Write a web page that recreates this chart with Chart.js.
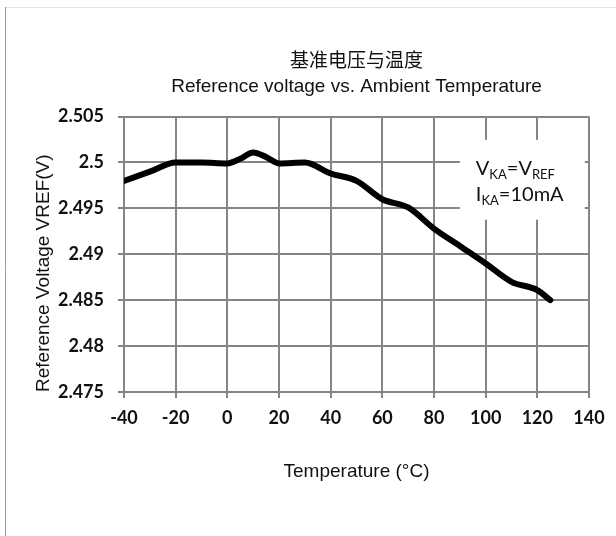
<!DOCTYPE html>
<html>
<head>
<meta charset="utf-8">
<script src="https://cdn.jsdelivr.net/npm/chart.js@4/dist/chart.umd.min.js"></script>
<style>
  html, body { margin: 0; padding: 0; background: #ffffff; }
  #wrap { width: 616px; height: 536px; position: relative; }
</style>
</head>
<body>
<div id="wrap"><canvas id="c" width="616" height="536"></canvas></div>
<script>
// ---- data ----
const temperatures = [-40, -30, -20, -10, 0, 5, 10, 15, 20, 30, 40, 50, 60, 70, 80, 90, 100, 110, 120, 125];
const vrefValues   = [2.4980, 2.4990, 2.5000, 2.5000, 2.4999, 2.5004, 2.5011, 2.5006, 2.4999, 2.5000, 2.4988, 2.4980, 2.4960, 2.4951, 2.4928, 2.4909, 2.4890, 2.4870, 2.4861, 2.4850];
const xTicks = [-40, -20, 0, 20, 40, 60, 80, 100, 120, 140];
const yTicks = [2.475, 2.48, 2.485, 2.49, 2.495, 2.5, 2.505];
const titleCN = '基准电压与温度';
const titleEN = 'Reference voltage vs. Ambient Temperature';
const xTitle = 'Temperature (°C)';
const yTitle = 'Reference Voltage VREF(V)';
const noteLine1 = [['V', false], ['KA', true], ['=V', false], ['REF', true]];
const noteLine2 = [['I', false], ['KA', true], ['=10mA', false]];

const points = temperatures.map((t, i) => ({ x: t, y: vrefValues[i] }));
const gridColor = '#858585';
const tickFont = { family: 'Lato', size: 18, weight: 'bold' };

const framePlugin = {
  id: 'frame',
  beforeDraw(chart) {
    const ctx = chart.ctx;
    ctx.save();
    ctx.fillStyle = '#ffffff';
    ctx.fillRect(0, 0, chart.width, chart.height);
    ctx.strokeStyle = '#e2e2e2';
    ctx.lineWidth = 1;
    ctx.beginPath(); ctx.moveTo(5, 7.5); ctx.lineTo(chart.width, 7.5); ctx.stroke();
    ctx.strokeStyle = '#9a9a9a';
    ctx.beginPath(); ctx.moveTo(5.5, 7); ctx.lineTo(5.5, chart.height); ctx.stroke();
    ctx.restore();
  }
};

const notePlugin = {
  id: 'note',
  beforeDatasetsDraw(chart) {
    const ctx = chart.ctx;
    const xs = chart.scales.x, ys = chart.scales.y;
    const x0 = xs.getPixelForValue(90), x1 = xs.getPixelForValue(138.4);
    const y0 = ys.getPixelForValue(2.50247), y1 = ys.getPixelForValue(2.49377);
    ctx.save();
    ctx.fillStyle = '#ffffff';
    ctx.fillRect(x0, y0, x1 - x0, y1 - y0);
    ctx.fillStyle = '#111111';
    ctx.textBaseline = 'alphabetic';
    ctx.textAlign = 'left';
    const drawLine = (parts, x, y) => {
      parts.forEach(([txt, sub]) => {
        ctx.font = sub ? '13px Lato' : '20px Lato';
        ctx.fillText(txt, x, sub ? y + 4 : y);
        x += ctx.measureText(txt).width;
      });
    };
    drawLine(noteLine1, x0 + 16, y0 + 35);
    drawLine(noteLine2, x0 + 16, y0 + 61);
    ctx.restore();
  }
};

new Chart(document.getElementById('c'), {
  type: 'line',
  data: {
    datasets: [{
      data: points,
      borderColor: '#000000',
      borderWidth: 6,
      borderCapStyle: 'round',
      borderJoinStyle: 'round',
      pointRadius: 0,
      cubicInterpolationMode: 'monotone',
      fill: false
    }]
  },
  options: {
    responsive: false,
    animation: false,
    layout: { padding: { left: 0, right: 27, top: 0, bottom: 0 } },
    plugins: {
      legend: { display: false },
      tooltip: { enabled: false },
      title: {
        display: true,
        fullSize: false,
        text: titleCN,
        color: '#111111',
        font: { family: 'Noto Sans CJK SC', size: 19, weight: 'normal', lineHeight: 1.2 },
        padding: { top: 48, bottom: 0 }
      },
      subtitle: {
        display: true,
        fullSize: false,
        text: titleEN,
        color: '#111111',
        font: { family: 'Liberation Sans', size: 19, weight: 'normal', lineHeight: 1.2 },
        padding: { top: 5, bottom: 18 }
      }
    },
    scales: {
      x: {
        type: 'linear',
        min: -40, max: 140,
        afterFit: (s) => { s.height = 144; },
        afterBuildTicks: (s) => { s.ticks = xTicks.map(v => ({ value: v })); },
        ticks: { color: '#111111', font: tickFont, padding: 9, maxRotation: 0 },
        grid: { color: gridColor, lineWidth: 2, tickLength: 6, drawTicks: true },
        border: { color: gridColor, width: 2 },
        title: {
          display: true, text: xTitle, color: '#111111',
          font: { family: 'Liberation Sans', size: 19, lineHeight: 1.2 },
          padding: { top: 0, bottom: 53 }
        }
      },
      y: {
        type: 'linear',
        min: 2.475, max: 2.505,
        afterFit: (s) => { s.width = 124; },
        afterBuildTicks: (s) => { s.ticks = yTicks.map(v => ({ value: v })); },
        ticks: {
          color: '#111111', font: tickFont, padding: 14,
          callback: (v) => String(+Number(v).toFixed(3))
        },
        grid: { color: gridColor, lineWidth: 2, tickLength: 6, drawTicks: true },
        border: { color: gridColor, width: 2 },
        title: {
          display: true, text: yTitle, color: '#111111', align: 'start',
          font: { family: 'Liberation Sans', size: 19, lineHeight: 1.2 },
          padding: { top: 32, bottom: 0 }
        }
      }
    }
  },
  plugins: [framePlugin, notePlugin]
});
</script>
</body>
</html>
